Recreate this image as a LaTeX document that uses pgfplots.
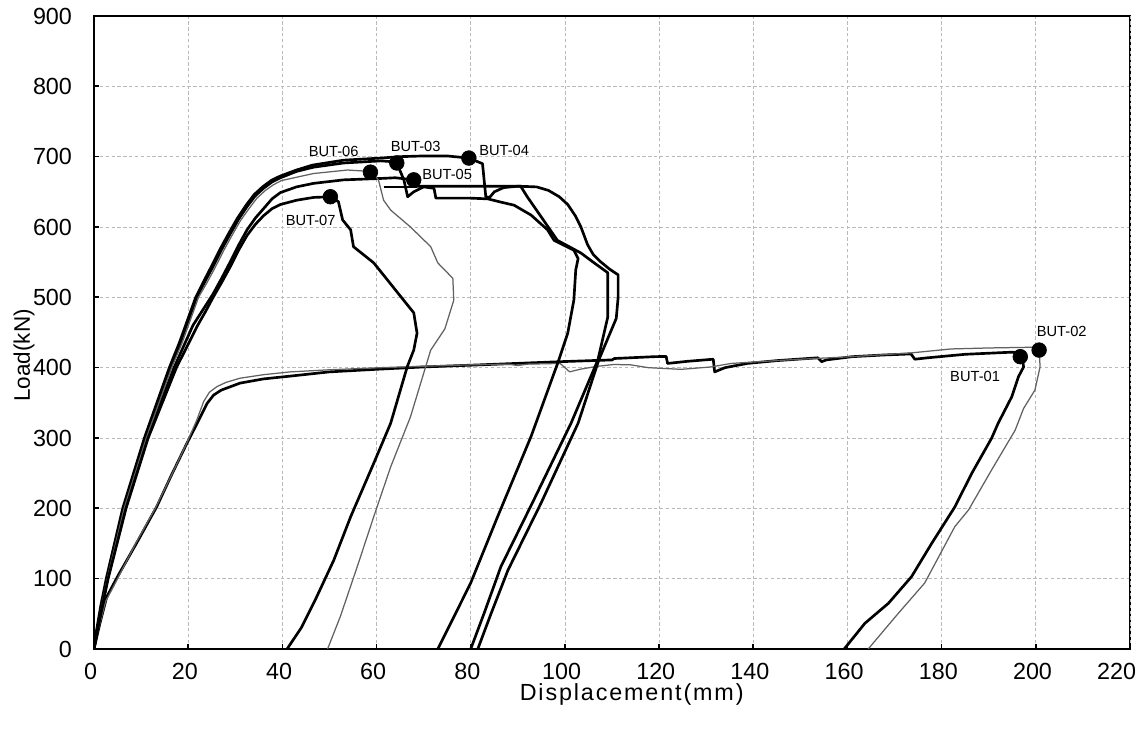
\documentclass[border=0pt]{standalone}
\usepackage{fontspec}
\setmainfont{Liberation Sans}
\newfontfamily\spaced[LetterSpace=8]{Liberation Sans}
\usepackage{pgfplots}
\pgfplotsset{compat=1.18}

\pgfplotsset{
  thk/.style={black, line width=1.6pt, no marks, line join=round},
  thn/.style={black!62, line width=0.75pt, no marks, line join=round},
  pk/.style={only marks, mark=*, mark size=4.4pt, black},
}

\begin{document}
\begin{tikzpicture}
\begin{axis}[
  scale only axis, width=621.6pt, height=379.8pt,
  xmin=0, xmax=220, ymin=0, ymax=900,
  xtick={0,20,...,200}, ytick={0,100,...,900},
  extra x ticks={220}, extra x tick style={xticklabel style={xshift=-6pt}},
  tick align=inside, tick pos=left, major tick length=3pt,
  grid=major, grid style={gray!55, line width=0.5pt, dash pattern=on 2pt off 1.5pt},
  axis line style={line width=1.3pt},
  tick style={line width=1pt, black},
  ticklabel style={font=\fontsize{14}{16}\selectfont},
  /pgf/number format/assume math mode=true,
  yticklabel style={xshift=-9.7pt},
  xticklabel style={yshift=-4.9pt, xshift=-2pt},
  xlabel={Displacement(mm)}, ylabel={Load(kN)},
  xlabel style={font=\spaced\fontsize{14}{16}\selectfont, at={(rel axis cs:0.519,0)}, anchor=base, yshift=-31.2pt},
  ylabel style={font=\fontsize{13.5}{16}\selectfont, at={(rel axis cs:-0.057,0.464)}, anchor=south, inner sep=0pt},
]
% BUT-01
\addplot[thk] coordinates {(0,0) (1.2,35) (2.7,74) (5,103) (9,150) (13.3,202) (16.5,248) (19.7,292) (22,322) (24,349) (25.4,361) (27,368) (31,378) (36,384) (41.7,388) (50,394) (60.9,398) (70,401) (82,404) (99,408.5) (110,411) (110.5,413) (118.9,415.6) (121.5,416) (121.8,406) (126,409) (131.5,412) (131.8,394) (134,400) (138.7,406) (145,410) (153.7,414) (154.5,408.5) (155.5,411) (161,415.6) (167.6,418) (173.5,419.5) (174.3,412) (177,414) (185,419) (194.9,422) (197,421) (197.4,401) (196.3,387) (194.9,358.7) (192,321) (190.6,299.6) (186.4,249.8) (182.8,202) (177.9,150.3) (173.6,102.8) (168.7,65) (163.7,36.5) (159.3,0)};
% BUT-02
\addplot[thn] coordinates {(0,0) (1,30) (2.5,68) (5,100) (9,152) (13,200) (16.3,245) (19.5,290) (21.8,325) (23.3,352) (24.5,365) (26.1,373) (28,379) (31,385) (36,390) (41.7,394) (50,397) (60.9,400) (70,402) (80,404) (88,405) (90,403) (92,405) (99,406) (100,400) (101,394) (103.4,398) (107,402) (110.4,404.5) (114,404) (117.7,400) (124.7,397.6) (131,401) (135.3,406) (140,408) (150,412) (160.9,415.6) (173.6,421) (182,426.6) (190,428) (199.1,429) (200.7,428) (200.9,401) (199.8,368) (197.4,342) (195.6,311) (190.6,254.5) (185.7,197.6) (182.8,174) (176.4,93.8) (170.8,50.7) (164.4,0)};
% BUT-03
\addplot[thk] coordinates {(0,0) (0.6,25) (1.6,60) (2.8,100) (6.3,200) (10.9,300) (16.2,400) (18.3,435) (21.8,500) (23.6,523) (25.3,544) (27.1,568) (28.9,590) (30.7,611) (32.5,629) (34.2,644) (36,655) (37.8,664) (39.6,670) (43,679) (46.6,685) (53,691) (60.9,694) (63,693) (64.3,691) (65.8,667) (66.6,643) (67.9,650) (70,657) (72.2,655) (72.6,641) (80,641) (83.6,640) (86,636) (89.2,631) (92.8,617) (96.3,596) (97.7,581) (101.9,567) (102.8,555) (102.3,539) (101.9,496) (100.6,449) (98.5,407) (92.8,302) (85.7,188) (80,94) (76,40) (73,0)};
% BUT-04
\addplot[thk] coordinates {(0,0) (0.5,25) (1.4,60) (2.6,100) (6.1,200) (10.7,300) (16,400) (18.1,435) (21.6,500) (23.4,524) (25.1,546) (26.9,570) (28.7,592) (30.5,613) (32.3,631) (34,646) (35.8,657) (37.6,666) (39.4,672) (43,681) (46.4,688) (53,695) (60.9,698) (65,700) (70,701) (75,701) (79.6,698) (82.5,690) (83.2,643) (84,642) (85,650) (87,656) (90,658) (94,657) (96.5,652) (98.8,643) (100.6,632) (102.2,616) (103.4,600) (104.8,575) (106,561) (107.5,551) (109.5,540) (111.3,532) (111.3,500) (110.9,470) (107.2,411) (102.8,321) (94.9,207) (87.9,112) (84.3,50) (81.5,0)};
% BUT-05
\addplot[thk] coordinates {(0,0) (0.8,30) (2.9,100) (6.7,200) (11.3,300) (17,400) (21,460) (23.2,483) (25.3,505) (27.1,527) (28.9,550) (30.7,574) (32.5,596) (34.3,613) (36,626) (37.8,640) (39.6,649) (43,657) (46.6,662) (53,667) (60.9,669) (64,670) (67.9,667) (68.5,658) (75,658) (85,658) (90.6,658) (92,643) (94.9,615) (98.4,581) (103.4,563) (106,550) (109.1,535) (109.1,472) (107,411) (101.3,321) (93.4,212) (86.4,117) (82.8,50) (80,0)};
\addplot[thk] coordinates {(61.5,657) (68.5,657)};
% BUT-06
\addplot[thn] coordinates {(0,0) (0.6,25) (1.6,60) (2.8,100) (6.4,200) (11.1,300) (16.5,400) (18.7,435) (22.2,500) (24,521) (25.7,542) (27.5,566) (29.3,588) (31.1,609) (32.9,626) (34.6,641) (36.4,652) (38.1,660) (39.8,666) (46.6,676) (53.8,681) (58.7,679) (60.4,667) (61.5,638) (63,624) (67.2,600) (71.5,572) (73,549) (76.2,527) (76.4,496) (74.5,455) (71.5,425) (67.2,330) (63,259) (59.4,188) (55.9,117) (52.3,46) (49.6,0)};
% BUT-07
\addplot[thk] coordinates {(0,0) (0.8,30) (3,100) (6.8,200) (11.5,300) (17.5,400) (22,460) (23.7,480) (25.3,500) (27.1,521) (28.9,543) (30.7,567) (32.5,588) (34.3,604) (36,616) (37.8,626) (39.6,632) (43,638) (46.6,642) (50.2,643) (51.9,636) (52.8,610) (54.5,596) (55.1,572) (59.4,549) (67.9,478) (68.6,449) (67.9,425) (66.5,401) (63,321) (59.4,264) (54.5,188) (50.9,126) (47,70) (44,30) (41,0)};
% peaks
\addplot[pk] coordinates {(196.7,415.6) (200.7,425) (64.3,691) (79.6,698) (67.9,667) (58.7,678) (50.2,643)};
\begin{scope}[font=\fontsize{8.8}{10}\selectfont]
\node at (axis cs:50.9,707) {BUT-06};
\node at (axis cs:68.3,714) {BUT-03};
\node at (axis cs:87.1,709.5) {BUT-04};
\node at (axis cs:75,674) {BUT-05};
\node at (axis cs:46,610) {BUT-07};
\node at (axis cs:205.5,451) {BUT-02};
\node at (axis cs:187.1,387) {BUT-01};
\end{scope}
\end{axis}
\pgfresetboundingbox
\path (current axis.south west) ++(-56.4pt,-50.4pt) rectangle ([shift={(3.6pt,9.6pt)}]current axis.north east);
\end{tikzpicture}
\end{document}
